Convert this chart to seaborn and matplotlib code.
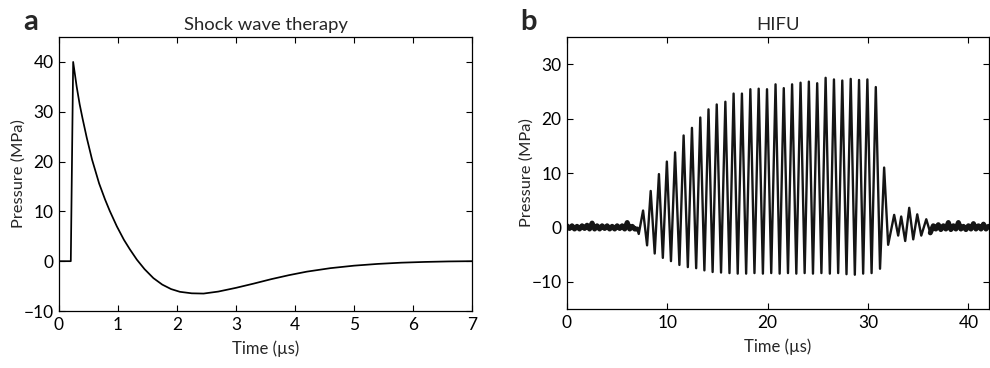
import matplotlib
matplotlib.use("Agg")
import matplotlib.pyplot as plt
import numpy as np
import pandas as pd
import seaborn as sns

# ---------------- data ----------------
shock_time = [0, 0.20, 0.24, 0.30, 0.35, 0.40, 0.47, 0.56, 0.68, 0.78, 0.86, 0.98,
              1.10, 1.20, 1.32, 1.45, 1.60, 1.75, 1.90, 2.05, 2.25, 2.45, 2.70,
              3.00, 3.30, 3.60, 3.90, 4.20, 4.60, 5.00, 5.40, 5.80, 6.20, 6.60, 7.00]
shock_pressure = [0, 0, 40, 35.0, 31.5, 28.6, 24.8, 20.4, 15.6, 12.4, 10.1, 7.0,
                  4.3, 2.4, 0.3, -1.6, -3.4, -4.7, -5.6, -6.15, -6.45, -6.5, -6.1,
                  -5.35, -4.5, -3.6, -2.8, -2.1, -1.4, -0.9, -0.55, -0.3, -0.15, -0.05, 0]

hifu_pre_time = [0, 0.25, 0.5, 0.75, 1.0, 1.25, 1.5, 1.75, 2.0, 2.25, 2.5, 2.75,
                 3.0, 3.25, 3.5, 3.75, 4.0, 4.25, 4.5, 4.75, 5.0, 5.25, 5.5, 5.75,
                 6.0, 6.25, 6.5, 6.75]
hifu_pre_pressure = [0.3, -0.2, 0.3, -0.3, 0.2, -0.3, 0.3, -0.2, 0.4, -0.3, 0.8, -0.3,
                     0.3, -0.3, 0.3, -0.2, 0.3, -0.3, 0.2, -0.3, 0.3, -0.2, 0.3, -0.3,
                     0.9, -0.3, 0.2, -0.3]

hifu_burst_time = [7.0, 7.15, 7.58, 7.98, 8.34, 8.74, 9.16, 9.55, 9.95, 10.36, 10.77,
                   11.2, 11.62, 12.04, 12.45, 12.87, 13.28, 13.69, 14.1, 14.51, 14.92,
                   15.35, 15.78, 16.19, 16.6, 17.01, 17.43, 17.85, 18.27, 18.68, 19.1,
                   19.52, 19.93, 20.35, 20.78, 21.19, 21.6, 22.02, 22.43, 22.85, 23.27,
                   23.68, 24.1, 24.51, 24.93, 25.35, 25.77, 26.19, 26.6, 27.02, 27.43,
                   27.85, 28.27, 28.68, 29.1, 29.51, 29.93, 30.35, 30.77, 31.19, 31.6,
                   32.0, 32.6, 33.0, 33.3, 33.7, 34.1, 34.5, 34.9, 35.3, 35.8, 36.2]
hifu_burst_pressure = [-0.3, -1.2, 3.1, -3.3, 6.7, -4.8, 9.8, -5.6, 12.1, -6.2, 13.8,
                       -6.9, 16.9, -7.3, 18.3, -7.5, 20.2, -7.9, 21.7, -8.2, 22.6,
                       -8.3, 23.1, -8.4, 24.6, -8.5, 24.6, -8.5, 25.4, -8.4, 25.5,
                       -8.5, 25.4, -8.4, 26.3, -8.5, 25.6, -8.4, 26.3, -8.5, 26.6,
                       -8.4, 26.8, -8.5, 26.5, -8.4, 27.5, -8.5, 27.2, -8.4, 27.0,
                       -8.6, 27.3, -8.7, 27.1, -8.5, 27.2, -8.4, 25.8, -7.6, 11.0,
                       -3.2, 2.3, -1.5, 2.0, -2.5, 3.6, -2.2, 2.4, -1.5, 1.5, -1.0]

hifu_post_time = [36.5, 36.75, 37.0, 37.25, 37.5, 37.75, 38.0, 38.25, 38.5, 38.75,
                  39.0, 39.25, 39.5, 39.75, 40.0, 40.25, 40.5, 40.75, 41.0, 41.25,
                  41.5, 41.75, 42.0]
hifu_post_pressure = [0.3, -0.3, 0.5, -0.4, 0.3, -0.3, 0.9, -0.4, 0.3, -0.3, 0.9, -0.3,
                      0.2, -0.4, 0.3, -0.3, 0.7, -0.3, 0.3, -0.3, 0.6, -0.3, 0.2]

shock_xticks = [0, 1, 2, 3, 4, 5, 6, 7]
shock_yticks = [-10, 0, 10, 20, 30, 40]
hifu_xticks = [0, 10, 20, 30, 40]
hifu_yticks = [-10, 0, 10, 20, 30]

panel_titles = ["Shock wave therapy", "HIFU"]
panel_letters = ["a", "b"]
x_label = "Time (µs)"
y_label = "Pressure (MPa)"

# ---------------- style ----------------
sns.set_style("ticks")
plt.rcParams['font.family'] = ['Lato', 'DejaVu Sans']
plt.rcParams['axes.linewidth'] = 0.9
plt.rcParams['axes.edgecolor'] = 'black'

fig = plt.figure(figsize=(9.9, 3.68), dpi=100)
ax1 = fig.add_axes([59 / 990, 1 - 311 / 368, (472 - 59) / 990, (311 - 37) / 368])
ax2 = fig.add_axes([567 / 990, 1 - 309 / 368, (988.5 - 567) / 990, (309 - 37) / 368])

shock_df = pd.DataFrame({"t": shock_time, "p": shock_pressure})
burst_df = pd.DataFrame({"t": hifu_burst_time, "p": hifu_burst_pressure})
pre_df = pd.DataFrame({"t": hifu_pre_time + hifu_burst_time[:1],
                       "p": hifu_pre_pressure + hifu_burst_pressure[:1]})
post_df = pd.DataFrame({"t": hifu_burst_time[-1:] + hifu_post_time,
                        "p": hifu_burst_pressure[-1:] + hifu_post_pressure})

sns.lineplot(data=shock_df, x="t", y="p", ax=ax1, color="black", lw=1.25,
             estimator=None, sort=False)
# quiet (noise-band) segments drawn as a thick trace, burst as a thinner trace
sns.lineplot(data=pre_df, x="t", y="p", ax=ax2, color="#151515", lw=3.6,
             estimator=None, sort=False)
sns.lineplot(data=post_df, x="t", y="p", ax=ax2, color="#151515", lw=3.6,
             estimator=None, sort=False)
sns.lineplot(data=burst_df, x="t", y="p", ax=ax2, color="#151515", lw=1.7,
             estimator=None, sort=False)

for ax, xt, yt, xl, yl, title in [
        (ax1, shock_xticks, shock_yticks, (0, 7), (-10, 45), panel_titles[0]),
        (ax2, hifu_xticks, hifu_yticks, (0, 42), (-15, 35), panel_titles[1])]:
    ax.set_xlim(*xl)
    ax.set_ylim(*yl)
    ax.set_xticks(xt)
    ax.set_yticks(yt)
    ax.set_xticklabels([str(v) if v >= 0 else "\u2212" + str(-v) for v in xt])
    ax.set_yticklabels([str(v) if v >= 0 else "\u2212" + str(-v) for v in yt])
    ax.tick_params(direction="in", top=True, right=True, length=4, width=0.8,
                   labelsize=12.5, pad=4, colors="black")
    for s in ax.spines.values():
        s.set_visible(True)
        s.set_color("black")
    ax.set_xlabel(x_label, fontsize=12, labelpad=6)
    ax.set_ylabel(y_label, fontsize=11.8, labelpad=-2)
    ax.set_title(title, fontsize=13.3, pad=5)

fig.text(23 / 990, 1 - 30 / 368, panel_letters[0], fontsize=21, fontweight="bold",
         va="baseline", ha="left")
fig.text(520 / 990, 1 - 30 / 368, panel_letters[1], fontsize=21, fontweight="bold",
         va="baseline", ha="left")

fig.savefig("out.png", dpi=100, facecolor="white")
